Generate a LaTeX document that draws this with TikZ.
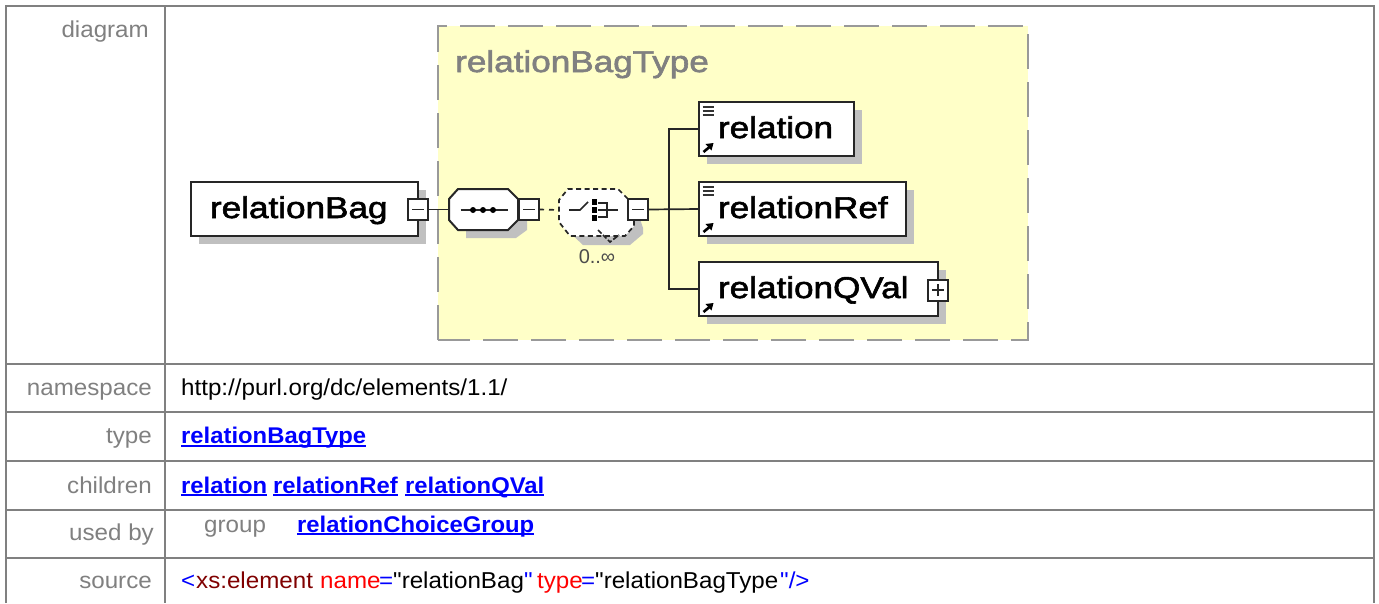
\documentclass[tikz,border=0pt]{standalone}
\usepackage{fontspec}
\usetikzlibrary{calc,shadows}
\setmainfont{Liberation Sans}
\newfontfamily\dgfont[FakeStretch=1.17,FakeBold=2]{Liberation Sans}
\newfontfamily\tbfont[FakeStretch=1.05]{Liberation Sans}
\definecolor{tblgray}{HTML}{808080}
\definecolor{yel}{HTML}{FFFFC8}
\definecolor{shad}{HTML}{C0C0C0}
\definecolor{lnkblue}{HTML}{0000FF}
\definecolor{dkred}{HTML}{800000}
\definecolor{dashgray}{HTML}{999999}
\newcommand{\lnk}[1]{\setbox0\hbox{#1}\leavevmode\rlap{\rule[-3pt]{\wd0}{1.8pt}}\box0}
\tikzset{
  x=1pt,y=-1pt,
  dg/.style={font=\dgfont\fontsize{30}{32}\selectfont},
  elem/.style={dg,draw=black!85,fill=white,line width=2pt,outer sep=0pt,inner sep=0pt,anchor=north west,
     align=left,text height=25pt,text depth=7pt,
     copy shadow={fill=shad,draw=none,shadow xshift=8pt,shadow yshift=-8pt}},
  pmbox/.style={draw=black!85,fill=white,line width=2pt,minimum width=20pt,minimum height=21pt,inner sep=0pt,outer sep=0pt},
  conn/.style={draw=black!85,line width=1.7pt},
  dconn/.style={draw=black!85,line width=1.7pt,dash pattern=on 5pt off 5pt},
  tline/.style={draw=tblgray,line width=2pt},
  lab/.style={anchor=base east,text=tblgray,font=\tbfont\fontsize{23}{25}\selectfont,inner sep=0pt},
  val/.style={anchor=base west,font=\tbfont\fontsize{23}{25}\selectfont,inner sep=0pt},
  link/.style={anchor=base west,text=lnkblue,font=\tbfont\bfseries\fontsize{22.7}{25}\selectfont,inner sep=0pt},
  icon/.style={draw=black!80,line width=2pt},
  anchorbox/.style={inner sep=0pt,outer sep=0pt,draw=none},
}
\newcommand{\minusmark}[1]{\draw[conn] ([xshift=-6pt]#1.center) -- ([xshift=6pt]#1.center);}
\newcommand{\plusmark}[1]{\draw[conn] ([xshift=-6pt]#1.center) -- ([xshift=6pt]#1.center);\draw[conn] ([yshift=-6pt]#1.center) -- ([yshift=6pt]#1.center);}
\newcommand{\docicon}[1]{\foreach \dy in {5,9,13}{\draw[icon] ($(#1.north west)+(3.5,\dy)$) -- ++(11,0);}}
\newcommand{\refarrow}[1]{\draw[line width=2.6pt,black] ($(#1.south west)+(4.5,-4)$) -- ++(6,-5);
  \fill[black] ($(#1.south west)+(14.5,-13)$) -- ++(-8,1) -- ++(6,6.5) -- cycle;}
\begin{document}
\begin{tikzpicture}
\useasboundingbox (0,0) rectangle (1379,603);
\fill[white] (0,0) rectangle (1379,603);
% table
\draw[tline] (6,603) -- (6,6) -- (1374,6) -- (1374,603);
\draw[tline] (165,6) -- (165,603);
\foreach \yy in {364,412,461,510,558}{\draw[tline] (6,\yy) -- (1374,\yy);}
% yellow type box
\fill[yel] (438,26) rectangle (1028,340);
\draw[draw=dashgray,line width=2pt,dash pattern=on 35pt off 13pt] (438,340) -- (438,26) -- (1028,26) -- (1028,340) -- cycle;
\node[dg,text=tblgray,anchor=base west,inner sep=0pt] (typename) at (455,72) {relationBagType};
% root
\node[elem,minimum width=227pt,minimum height=54pt,text width=227pt] (root) at (191,182) {\hspace*{19pt}relationBag};
\node[pmbox] (rootm) at (418,209.5) {};
\minusmark{rootm}
% sequence
\fill[shad] (466,197) -- (516,197) -- (527,207) -- (527,230) -- (516,238) -- (466,238) -- cycle;
\path[draw=black!85,fill=white,line width=2pt] (458,189) -- (508,189) -- (518,199) -- (518,220) -- (508,230) -- (458,230) -- (449,220) -- (449,199) -- cycle;
\node[anchorbox,minimum width=69pt,minimum height=41pt] (seq) at (483.5,209.5) {};
\node[pmbox] (seqm) at (529,209.5) {};
\minusmark{seqm}
\draw[conn] (rootm.east) -- (seq.west);
\draw[conn] ($(seq.center)+(-23,0.5)$) -- ($(seq.center)+(24,0.5)$);
\foreach \dx in {-10.5,-0.5,9.5}{\fill[black] ($(seq.center)+(\dx,0.5)$) circle (3pt);}
% choice
\fill[shad] (567,208) -- (576,197) -- (626,197) -- (636,207) -- (643,228) -- (643,234) -- (630,245) -- (583,245) -- (567,230) -- cycle;
\path[fill=white] (559,200) -- (568,189) -- (618,189) -- (634,205) -- (634,226) -- (625,236) -- (570,236) -- (559,222) -- cycle;
\draw[conn,dash pattern=on 5pt off 3.5pt] (628,199) -- (618,189) -- (568,189) -- (559,200) -- (559,222) -- (570,236) -- (625,236) -- (634,226) -- (634,220);
\draw[conn,dash pattern=on 5pt off 2pt] (598,230) -- (610,242) -- (619,235);
\node[anchorbox,minimum width=1pt,minimum height=40pt] (choice) at (559,210) {};
\node[pmbox] (chm) at (638,209.5) {};
\minusmark{chm}
\draw[dconn] (seqm.east) -- (choice.center);
\draw[conn] (569,210) -- (580,210) -- (588,202);
\foreach \yy in {202,210,218}{\fill[black] (591.5,\yy-2.6) rectangle (596.5,\yy+2.6);}
\draw[conn] (598,203) -- (607,203) -- (607,217) -- (598,217);
\draw[conn] (598,210) -- (618,210);
\node[font=\fontsize{20}{22}\selectfont,text=black!70,anchor=base,inner sep=0pt] (occ) at (597,263) {0..∞};
% children
\node[elem,minimum width=155pt,minimum height=54pt,text width=155pt] (rel) at (699,102) {\hspace*{19pt}relation};
\node[elem,minimum width=207pt,minimum height=54pt,text width=207pt] (ref) at (699,182) {\hspace*{19pt}relationRef};
\node[elem,minimum width=239pt,minimum height=54pt,text width=239pt] (qval) at (699,262) {\hspace*{19pt}relationQVal};
\node[pmbox] (qvalp) at (938,290) {};
\plusmark{qvalp}
\docicon{rel}\docicon{ref}
\refarrow{rel}\refarrow{ref}\refarrow{qval}
% connectors
\coordinate (spine) at (669,209);
\draw[conn] (chm.east) -- (ref.west);
\draw[conn] (spine) |- (rel.west);
\draw[conn] (spine) |- (qval.west);
% table text
\node[lab] (l1) at (149,37) {diagram};
\node[lab] (l2) at (152,395) {namespace};
\node[lab] (l3) at (152,443.5) {type};
\node[lab] (l4) at (152,493) {children};
\node[lab] (l5) at (154,540) {used by};
\node[lab] (l6) at (152,588) {source};
\node[val] (v2) at (181,395) {http://purl.org/dc/elements/1.1/};
\node[link] (v3) at (181,443.5) {\lnk{relationBagType}};
\node[link] (v4a) at (181,493) {\lnk{relation}};
\node[link] (v4b) at (273,493) {\lnk{relationRef}};
\node[link] (v4c) at (405,493) {\lnk{relationQVal}};
\node[val,text=tblgray] (g) at (204,532) {group};
\node[link] (v5) at (297,532) {\lnk{relationChoiceGroup}};
\node[val,text=lnkblue] (s1) at (181,588) {<};
\node[val,text=dkred] (s2) at (196,588) {xs:element};
\node[val,text=red] (s3) at (320,588) {name};
\node[val,text=lnkblue] (s4) at (379,588) {=};
\node[val] (s5) at (393,588) {"relationBag};
\node[val,text=lnkblue] (s6) at (524,588) {"};
\node[val,text=red] (s7) at (537,588) {type};
\node[val,text=lnkblue] (s8) at (581,588) {=};
\node[val] (s9) at (595,588) {"relationBagType};
\node[val,text=lnkblue] (s10) at (780,588) {"/>};
\end{tikzpicture}
\end{document}
